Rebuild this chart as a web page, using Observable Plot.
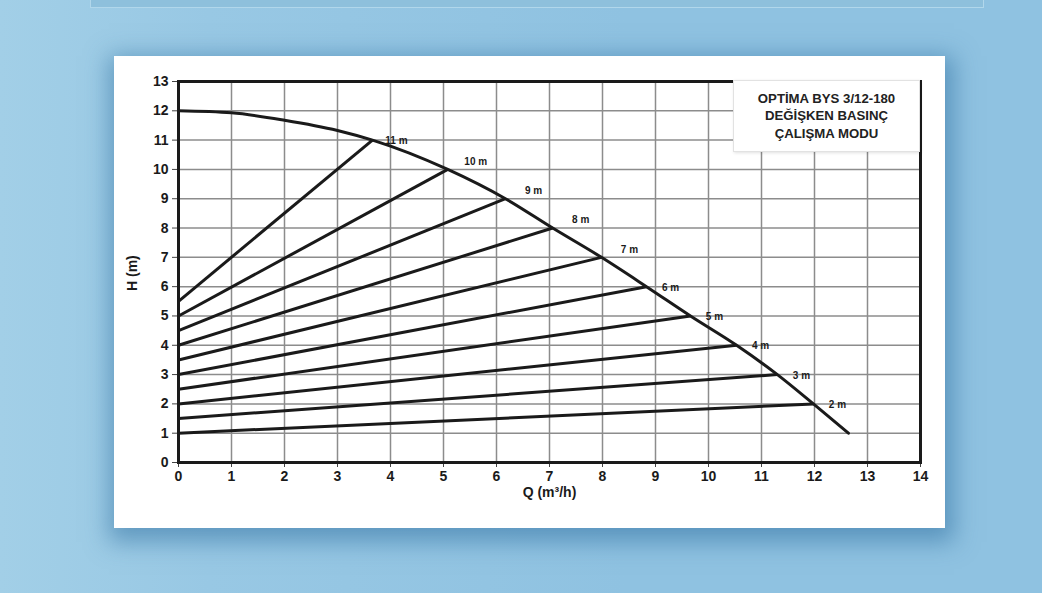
<!DOCTYPE html>
<html>
<head>
<meta charset="utf-8">
<script src="https://cdn.jsdelivr.net/npm/d3@7"></script>
<script src="https://cdn.jsdelivr.net/npm/@observablehq/plot@0.6"></script>
<style>
  html, body { margin: 0; padding: 0; }
  body {
    width: 1042px; height: 593px; overflow: hidden; position: relative;
    background: linear-gradient(90deg, #a2cfe7 0%, #98c8e4 20%, #8fc2e1 60%, #8fc2e1 100%);
    font-family: "Liberation Sans", Arial, sans-serif;
  }
  #topstrip {
    position: absolute; left: 90px; top: -2px; width: 892px; height: 8px;
    border: 1px solid rgba(200,230,245,0.6); background: #8ec0dc;
  }
  #panel {
    position: absolute; left: 114px; top: 56px; width: 831px; height: 472px;
    background: #ffffff;
    box-shadow: 2px 7px 22px 7px rgba(40, 105, 155, 0.5);
  }
  #panel svg { position: absolute; left: 0; top: 0; }
  #title {
    position: absolute; left: 619px; top: 24px; width: 187px; height: 72px;
    background: #ffffff; box-sizing: border-box;
    border: 1px solid #e2e2e2;
    box-shadow: 1px 1px 3px rgba(0,0,0,0.12);
    display: flex; flex-direction: column; justify-content: center; align-items: center;
    font-weight: bold; font-size: 13.2px; line-height: 17.5px; color: #222; text-align: center;
  }
</style>
</head>
<body>
<div id="topstrip"></div>
<div id="panel"><div id="title"></div></div>
<script>
// ---- data ----
const titleLines = ["OPTİMA BYS 3/12-180", "DEĞİŞKEN BASINÇ", "ÇALIŞMA MODU"];
const xTicks = [0,1,2,3,4,5,6,7,8,9,10,11,12,13,14];
const yTicks = [0,1,2,3,4,5,6,7,8,9,10,11,12,13];
const xLabel = "Q (m³/h)";
const yLabel = "H (m)";

// maximum curve
const qMax = [0, 1, 2, 3, 3.66, 5.08, 6.17, 7.06, 7.98, 8.83, 9.66, 10.53, 11.3, 11.98, 12.64];
const hMax = [12, 11.93, 11.68, 11.33, 11, 10, 9, 8, 7, 6, 5, 4, 3, 2, 1];

// variable-pressure lines
const setH   = [11, 10, 9, 8, 7, 6, 5, 4, 3, 2];
const startH = [5.5, 5, 4.5, 4, 3.5, 3, 2.5, 2, 1.5, 1];
const endQ   = [3.66, 5.08, 6.17, 7.06, 7.98, 8.83, 9.66, 10.53, 11.3, 11.98];
const setLabels = ["11 m","10 m","9 m","8 m","7 m","6 m","5 m","4 m","3 m","2 m"];

// ---- build tables ----
const maxCurve = qMax.map((q, i) => ({q, h: hMax[i]}));
const segs = setH.map((h, i) => ({q1: 0, h1: startH[i], q2: endQ[i], h2: h, label: setLabels[i]}));
const raised = segs.filter(d => d.h2 >= 7 && d.h2 <= 10);
const level = segs.filter(d => !(d.h2 >= 7 && d.h2 <= 10));

document.getElementById("title").innerHTML = titleLines.map(t => `<div>${t}</div>`).join("");

const ink = "#1a1a1a";
const chart = Plot.plot({
  width: 831,
  height: 472,
  marginLeft: 64,
  marginRight: 25,
  marginTop: 25,
  marginBottom: 66,
  style: {fontFamily: "'Liberation Sans', Arial, sans-serif", fontWeight: "bold", color: ink, background: "transparent"},
  x: {domain: [0, 14]},
  y: {domain: [0, 13]},
  marks: [
    Plot.gridX(xTicks, {stroke: "#8c8c8c", strokeOpacity: 1, strokeWidth: 1.5}),
    Plot.gridY(yTicks, {stroke: "#8c8c8c", strokeOpacity: 1, strokeWidth: 1.5}),
    Plot.axisX({ticks: xTicks, tickSize: 5, tickPadding: 4, fontSize: 14, stroke: "#444", label: null, tickFormat: d => String(d)}),
    Plot.axisY({ticks: yTicks, tickSize: 6, tickPadding: 4, fontSize: 14, stroke: "#444", label: null, tickFormat: d => String(d)}),
    Plot.link(segs, {x1: "q1", y1: "h1", x2: "q2", y2: "h2", stroke: ink, strokeWidth: 3}),
    Plot.line(maxCurve, {x: "q", y: "h", curve: "monotone-x", stroke: ink, strokeWidth: 3}),
    Plot.frame({stroke: ink, strokeWidth: 3}),
    Plot.text(level, {x: "q2", y: "h2", text: "label", dx: 24, dy: 1, fontSize: 10, fill: ink}),
    Plot.text(raised, {x: "q2", y: "h2", text: "label", dx: 28, dy: -8, fontSize: 10, fill: ink}),
    Plot.text([yLabel], {frameAnchor: "left", dx: -46, dy: 19, rotate: -90, fontSize: 14, fill: ink}),
    Plot.text([xLabel], {frameAnchor: "bottom", dy: 34, fontSize: 14, fill: ink})
  ]
});
document.getElementById("panel").prepend(chart);
</script>
</body>
</html>
